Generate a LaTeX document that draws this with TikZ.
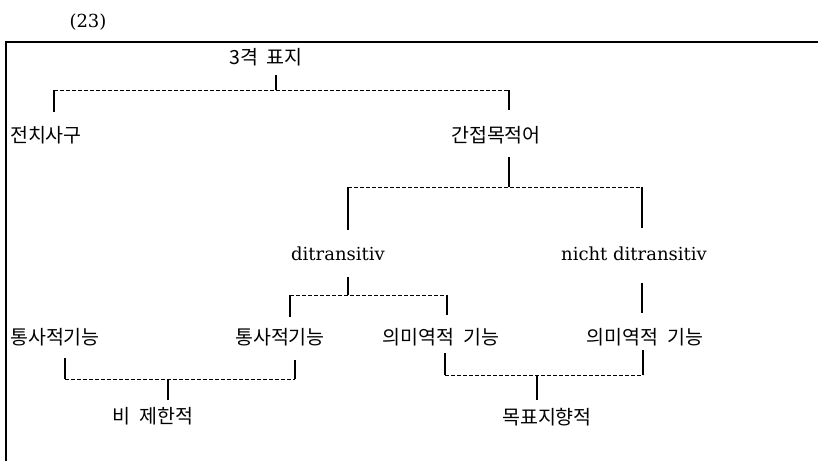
\documentclass[tikz,border=0pt]{standalone}
\usepackage{fontspec}
\newfontfamily\kr{Noto Sans CJK KR}
\newfontfamily\latf{DejaVu Serif}
\begin{document}
\begin{tikzpicture}[x=1pt,y=-1pt,
  kor/.style={font=\kr\fontsize{19.5}{22}\selectfont, anchor=base, inner sep=0pt},
  lat/.style={font=\latf\fontsize{18}{22}\selectfont, anchor=base, inner sep=0pt},
  tick/.style={line width=1.2pt},
  dsh/.style={line width=1pt, dash pattern=on 4pt off 2pt},
  frameline/.style={line width=1.5pt}]
\useasboundingbox (0,0) rectangle (818,461);
% frame
\coordinate (fTR) at (818,42);
\coordinate (fTL) at (6,42);
\coordinate (fBL) at (6,461);
\draw[frameline] (fTR) -- (fTL) -- (fBL);
% labels
\node[lat] (num) at (88,27) {(23)};
\node[kor] (top) at (266,64) {3격\hspace{0.4em}표지};
\node[kor] (jeon) at (46,142) {전치사구};
\node[kor] (gan) at (496,142) {간접목적어};
\node[lat] (ditr) at (338,260) {ditransitiv};
\node[lat] (nditr) at (634,260) {nicht ditransitiv};
\node[kor] (tong1) at (55,344) {통사적기능};
\node[kor] (tong2) at (280,344) {통사적기능};
\node[kor] (uimi1) at (441,344) {의미역적\hspace{0.5em}기능};
\node[kor] (uimi2) at (645,344) {의미역적\hspace{0.5em}기능};
\node[kor] (bi) at (153,423) {비\hspace{0.5em}제한적};
\node[kor] (mok) at (547,424) {목표지향적};
% level 1
\coordinate (a0) at (276,75);
\coordinate (a1) at (276,90);
\coordinate (aL) at (54,90);
\coordinate (aLd) at (54,112);
\coordinate (aR) at (509,90);
\coordinate (aRd) at (509,110);
\draw[tick] (a0) -- (a1);
\draw[dsh] (aL) -- (aR);
\draw[tick] (aL) -- (aLd);
\draw[tick] (aR) -- (aRd);
% level 2
\coordinate (b0) at (509,157);
\coordinate (b1) at (509,187);
\coordinate (bL) at (348,187);
\coordinate (bLd) at (348,230);
\coordinate (bR) at (642,187);
\coordinate (bRd) at (642,228);
\draw[tick] (b0) -- (b1);
\draw[dsh] (bL) -- (bR);
\draw[tick] (bL) -- (bLd);
\draw[tick] (bR) -- (bRd);
% level 3 ditransitiv
\coordinate (c0) at (348,277);
\coordinate (c1) at (348,295);
\coordinate (cL) at (290,295);
\coordinate (cLd) at (290,317);
\coordinate (cR) at (447,295);
\coordinate (cRd) at (447,315);
\draw[tick] (c0) -- (c1);
\draw[dsh] (cL) -- (cR);
\draw[tick] (cL) -- (cLd);
\draw[tick] (cR) -- (cRd);
% level 3 nicht ditransitiv
\coordinate (d0) at (642,283);
\coordinate (d1) at (642,313);
\draw[tick] (d0) -- (d1);
% bottom left bracket
\coordinate (eLu) at (65,358);
\coordinate (eL) at (65,379);
\coordinate (eR) at (295,379);
\coordinate (eRu) at (295,360);
\coordinate (eM) at (168,379);
\coordinate (eMd) at (168,400);
\draw[tick] (eLu) -- (eL);
\draw[tick] (eRu) -- (eR);
\draw[dsh] (eL) -- (eR);
\draw[tick] (eM) -- (eMd);
% bottom right bracket
\coordinate (fLu) at (445,353);
\coordinate (fL) at (445,375);
\coordinate (fR) at (643,375);
\coordinate (fRu) at (643,350);
\coordinate (fM) at (537,375);
\coordinate (fMd) at (537,400);
\draw[tick] (fLu) -- (fL);
\draw[tick] (fRu) -- (fR);
\draw[dsh] (fL) -- (fR);
\draw[tick] (fM) -- (fMd);
\end{tikzpicture}
\end{document}
